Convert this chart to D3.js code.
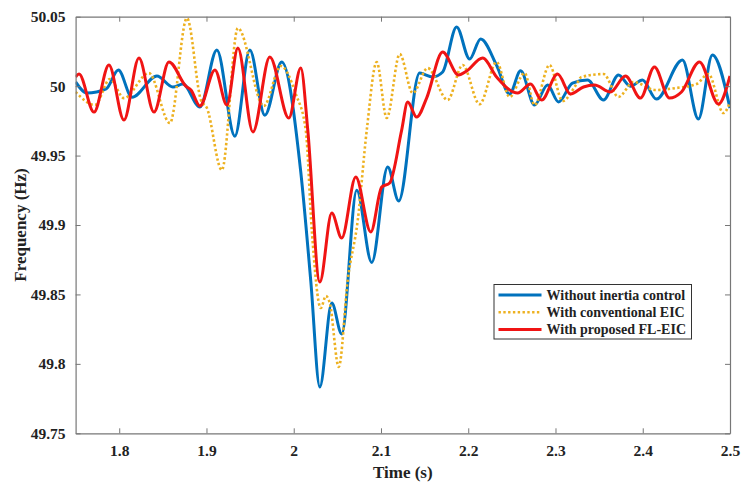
<!DOCTYPE html>
<html>
<head>
<meta charset="utf-8">
<script src="https://cdn.jsdelivr.net/npm/d3@7"></script>
<style>
  html, body { margin: 0; padding: 0; background: #fff; }
  svg { display: block; }
  text { font-family: "Liberation Serif", "Times New Roman", serif; font-weight: bold; fill: #222; }
</style>
</head>
<body>
<svg id="chart" width="741" height="486"></svg>
<script>
// Frequency response after a disturbance at t = 2 s (turning points of each trace)
const blueTime = [1.75,1.763,1.785,1.799,1.8146,1.8432,1.8615,1.873,1.8925,1.9119,1.9325,1.9497,1.9669,1.9863,2.0081,2.0195,2.0299,2.0436,2.055,2.0722,2.0894,2.1077,2.1203,2.1443,2.1592,2.1707,2.1867,2.2016,2.2142,2.2325,2.2474,2.26,2.276,2.2909,2.3035,2.3195,2.3367,2.355,2.3722,2.3859,2.3997,2.4157,2.4455,2.4638,2.4798,2.5];
const blueFreq = [50.003,49.995,49.998,50.0116,49.992,50.0073,49.9994,50.0015,49.985,50.026,49.964,50.026,49.979,50.0174,49.938,49.860,49.7834,49.8438,49.8215,49.925,49.873,49.9418,49.9173,50.0094,50.0066,50.0102,50.0426,50.0195,50.034,50.015,49.9943,50.011,49.9864,50.0008,49.9886,50.0022,50.0044,49.99,50.008,50.0,50.0044,49.9907,50.0188,49.9763,50.0224,49.9842];

const goldTime = [1.75,1.7722,1.7894,1.8054,1.834,1.8581,1.8776,1.8936,1.9005,1.9176,1.936,1.9657,1.9852,2.0024,2.0138,2.0207,2.031,2.0368,2.0413,2.0516,2.0619,2.0734,2.0837,2.0951,2.1066,2.1215,2.1364,2.1535,2.1764,2.1936,2.213,2.2325,2.2474,2.2646,2.276,2.2932,2.3081,2.3241,2.3298,2.355,2.3722,2.3894,2.4146,2.4375,2.4616,2.4753,2.4925,2.5];
const goldFreq = [49.9958,49.9864,50.0051,49.9914,50.0094,49.9734,50.049,49.99,49.9842,49.9396,50.0418,49.9857,50.0145,49.9943,49.9683,49.8963,49.8402,49.8489,49.8438,49.7978,49.8604,49.9035,49.9683,50.0173,49.977,50.0231,49.995,50.013,49.99,50.0152,49.987,50.0174,49.9922,50.0094,49.9864,50.0152,49.9893,50.0015,50.0066,50.0087,49.9922,50.003,49.9972,49.9986,50.0015,50.0087,49.9806,49.9885];

const redTime = [1.75,1.7539,1.7711,1.7882,1.8054,1.8226,1.8398,1.857,1.8764,1.8822,1.8925,1.9097,1.9234,1.936,1.9532,1.9726,1.9944,2.0081,2.0161,2.0299,2.0436,2.055,2.0711,2.0883,2.1008,2.1099,2.1237,2.1306,2.1409,2.1523,2.1707,2.189,2.1982,2.2165,2.2325,2.2566,2.2715,2.2841,2.3024,2.3172,2.3321,2.3447,2.363,2.3802,2.3974,2.4134,2.4306,2.4444,2.465,2.4868,2.5];
const redFreq = [50.0066,50.0087,49.9813,50.0152,49.9756,50.0202,49.9813,50.0174,50.0,49.9972,49.9857,50.0116,49.9864,50.0274,49.967,50.021,49.977,50.013,49.9683,49.859,49.9086,49.8906,49.9345,49.895,49.9273,49.9302,49.9683,49.9885,49.9777,49.9914,50.0245,50.008,50.0109,50.0202,50.0066,49.995,50.0015,49.99,50.0087,49.9943,49.9994,50.0008,49.9958,50.0073,49.9914,50.0138,49.9914,49.9958,50.0174,49.9871,50.0073];

const seriesNames = ["Without inertia control", "With conventional EIC", "With proposed FL-EIC"];
const xTicks = [1.8, 1.9, 2.0, 2.1, 2.2, 2.3, 2.4, 2.5];
const yTicks = [49.75, 49.8, 49.85, 49.9, 49.95, 50, 50.05];
const xTickLabels = ["1.8", "1.9", "2", "2.1", "2.2", "2.3", "2.4", "2.5"];
const yTickLabels = ["49.75", "49.8", "49.85", "49.9", "49.95", "50", "50.05"];

const svg = d3.select("#chart");
const plotLeft = 75.6, plotRight = 730, plotTop = 16.7, plotBottom = 433.3;
const x = d3.scaleLinear().domain([1.75, 2.5]).range([plotLeft, plotRight]);
const y = d3.scaleLinear().domain([49.75, 50.05]).range([plotBottom, plotTop]);

svg.append("defs").append("clipPath").attr("id", "plotClip")
  .append("rect").attr("x", plotLeft).attr("y", plotTop - 2)
  .attr("width", plotRight - plotLeft).attr("height", plotBottom - plotTop + 2);

const series = [
  { name: seriesNames[0], t: blueTime, f: blueFreq, color: "#0072BD", width: 3, dash: null },
  { name: seriesNames[1], t: goldTime, f: goldFreq, color: "#EDB120", width: 2.6, dash: "2.4,2.4" },
  { name: seriesNames[2], t: redTime, f: redFreq, color: "#F01414", width: 3, dash: null }
];

const line = d3.line().x(d => x(d[0])).y(d => y(d[1])).curve(d3.curveMonotoneX);

const plot = svg.append("g").attr("clip-path", "url(#plotClip)");
series.forEach(s => {
  const pts = s.t.map((t, i) => [t, s.f[i]]);
  plot.append("path")
    .datum(pts)
    .attr("d", line)
    .attr("fill", "none")
    .attr("stroke", s.color)
    .attr("stroke-width", s.width)
    .attr("stroke-linejoin", "round")
    .attr("stroke-dasharray", s.dash);
});

// Axes box with inward ticks on all four sides
const axisColor = "#777";
const tickLen = 5;
const xAxisB = d3.axisBottom(x).tickValues(xTicks).tickSizeInner(-tickLen).tickSizeOuter(0)
  .tickFormat((d, i) => xTickLabels[i]).tickPadding(12);
const xAxisT = d3.axisTop(x).tickValues(xTicks).tickSizeInner(-tickLen).tickSizeOuter(0).tickFormat("");
const yAxisL = d3.axisLeft(y).tickValues(yTicks).tickSizeInner(-tickLen).tickSizeOuter(0)
  .tickFormat((d, i) => yTickLabels[i]).tickPadding(10);
const yAxisR = d3.axisRight(y).tickValues(yTicks).tickSizeInner(-tickLen).tickSizeOuter(0).tickFormat("");

function styleAxis(g) {
  g.selectAll("path.domain").attr("stroke", axisColor).attr("stroke-width", 1.2);
  g.selectAll(".tick line").attr("stroke", axisColor).attr("stroke-width", 1);
  g.selectAll(".tick text").style("font-family", '"Liberation Serif", serif')
    .style("font-weight", "bold").style("font-size", "15.5px").attr("fill", "#222");
}
svg.append("g").attr("transform", `translate(0,${plotBottom})`).call(xAxisB).call(styleAxis);
svg.append("g").attr("transform", `translate(0,${plotTop})`).call(xAxisT).call(styleAxis);
svg.append("g").attr("transform", `translate(${plotLeft},0)`).call(yAxisL).call(styleAxis);
svg.append("g").attr("transform", `translate(${plotRight},0)`).call(yAxisR).call(styleAxis);

// Axis titles
svg.append("text")
  .attr("x", (plotLeft + plotRight) / 2).attr("y", 478)
  .attr("text-anchor", "middle").style("font-size", "17px")
  .text("Time (s)");
svg.append("text")
  .attr("transform", `translate(26,${(plotTop + plotBottom) / 2}) rotate(-90)`)
  .attr("text-anchor", "middle").style("font-size", "17px")
  .text("Frequency (Hz)");

// Legend
const lg = svg.append("g");
lg.append("rect").attr("x", 494).attr("y", 284.5).attr("width", 197.5).attr("height", 54.5)
  .attr("fill", "#fff").attr("stroke", "#333").attr("stroke-width", 1);
const rowY = [295, 312.2, 329.4];
series.forEach((s, i) => {
  lg.append("line").attr("x1", 498.5).attr("x2", 541.5).attr("y1", rowY[i]).attr("y2", rowY[i])
    .attr("stroke", s.color).attr("stroke-width", s.width)
    .attr("stroke-dasharray", s.dash);
  lg.append("text").attr("x", 546.5).attr("y", rowY[i] + 4.8)
    .style("font-size", "14px").text(s.name);
});
</script>
</body>
</html>
